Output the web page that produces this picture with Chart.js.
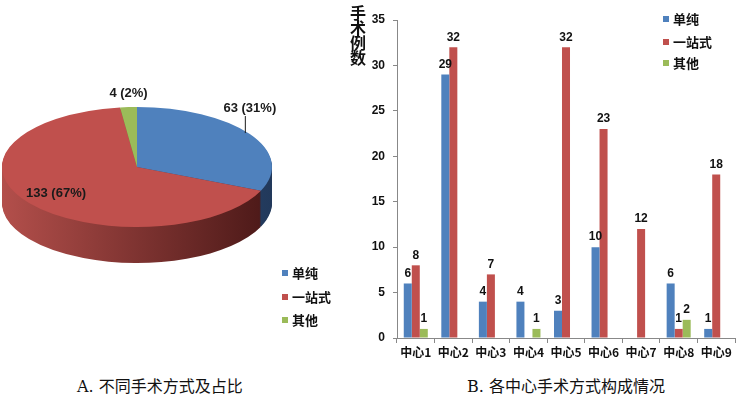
<!DOCTYPE html>
<html>
<head>
<meta charset="utf-8">
<script src="https://cdn.jsdelivr.net/npm/chart.js@4.4.0/dist/chart.umd.min.js"></script>
<style>
    body { margin: 0; background: #fff; width: 740px; height: 399px; position: relative; overflow: hidden; }
    #pieWrap { position: absolute; left: 2px; top: 32px; width: 338px; height: 300px; }
    #barWrap { position: absolute; left: 340px; top: 0; width: 400px; height: 370px; }
    .cap { position: absolute; top: 373px; font: 16px "DejaVu Serif", "Noto Sans CJK SC", serif; color: #111; white-space: nowrap; }
</style>
</head>
<body>
<div id="pieWrap"><canvas id="pieChart"></canvas></div>
<div id="barWrap"><canvas id="barChart"></canvas></div>
<div class="cap" style="left:77px">A. 不同手术方式及占比</div>
<div class="cap" style="left:467px">B. 各中心手术方式构成情况</div>

<script>
// ===== DATA =====
const methods = ["单纯", "一站式", "其他"];
const methodTotals = [63, 133, 4];
const methodShares = [31, 67, 2]; // percent, as printed on the pie

const centers = ["中心1", "中心2", "中心3", "中心4", "中心5", "中心6", "中心7", "中心8", "中心9"];
const simpleCases = [6, 29, 4, 4, 3, 10, 0, 6, 1];
const oneStopCases = [8, 32, 7, 0, 32, 23, 12, 1, 18];
const otherCases = [1, 0, 0, 1, 0, 0, 0, 2, 0];

const yMax = 35;
const yStep = 5;

const colors = ["#4F81BD", "#C0504D", "#9BBB59"];

Chart.defaults.animation = false;
Chart.defaults.plugins.legend.display = false;
Chart.defaults.plugins.tooltip.enabled = false;

const numFont = '"Liberation Sans", Arial, sans-serif';
const cjkFont = '"Noto Sans CJK SC", sans-serif';

// small square legend drawn straight on the canvas
function drawLegend(ctx, x, ys) {
    ctx.save();
    ctx.font = "bold 13px " + cjkFont;
    ctx.textBaseline = "middle";
    methods.forEach((m, i) => {
        ctx.fillStyle = colors[i];
        ctx.fillRect(x, ys[i] - 3, 6, 6);
        ctx.fillStyle = "#111";
        ctx.fillText(m, x + 10, ys[i]);
    });
    ctx.restore();
}

// ===== PIE (flattened + extruded to look 3D) =====
const tilt = 60 / 135;
const depth = 36;
const sideShades = [["#3d6597", "#22395b"], ["#b34f4b", "#4a1817"], ["#7d9a45", "#55692f"]];

const pie3d = {
    id: "pie3d",
    beforeDatasetsDraw(chart) {
        const ctx = chart.ctx;
        const arcs = chart.getDatasetMeta(0).data;
        const cx = arcs[0].x, cy = arcs[0].y, r = arcs[0].outerRadius;
        ctx.save();
        ctx.translate(cx, cy);
        ctx.scale(1, tilt);
        ctx.translate(-cx, -cy);
        // side walls
        for (let d = depth; d >= 1; d--) {
            ctx.save();
            ctx.translate(0, d / tilt);
            arcs.forEach((arc, i) => {
                const g = ctx.createLinearGradient(cx - r, 0, cx + r, 0);
                g.addColorStop(0, sideShades[i][0]);
                g.addColorStop(1, sideShades[i][1]);
                const fake = Object.create(arc);
                fake.options = { ...arc.options, backgroundColor: g, borderWidth: 0 };
                arc.draw.call(fake, ctx);
            });
            ctx.restore();
        }
        // leave the transform on for the top face
    },
    afterDatasetsDraw(chart) {
        chart.ctx.restore();
    },
    afterDraw(chart) {
        const ctx = chart.ctx;
        const arcs = chart.getDatasetMeta(0).data;
        ctx.save();
        ctx.font = "bold 13px " + numFont;
        ctx.fillStyle = "#1a1a1a";
        ctx.strokeStyle = "#1a1a1a";
        ctx.textAlign = "center";
        ctx.textBaseline = "middle";
        arcs.forEach((arc, i) => {
            const mid = (arc.startAngle + arc.endAngle) / 2;
            const r = arc.outerRadius;
            const text = methodTotals[i] + " (" + methodShares[i] + "%)";
            if (i === 1) {
                ctx.fillText(text, arc.x + r * 0.75 * Math.cos(mid), arc.y + r * tilt * 0.72 * Math.sin(mid));
            } else {
                const px = arc.x + r * Math.cos(mid);
                const py = arc.y + r * tilt * Math.sin(mid);
                if (i === 0) {
                    ctx.lineWidth = 1;
                    ctx.beginPath();
                    ctx.moveTo(px - 4.5, py - 1);
                    ctx.lineTo(px - 4.5, py - 18);
                    ctx.stroke();
                    ctx.fillText(text, px, py - 26);
                } else {
                    ctx.fillText(text, px, py - 14);
                }
            }
        });
        ctx.restore();
        drawLegend(ctx, 280, [241, 265, 288]);
    }
};

new Chart(document.getElementById("pieChart"), {
    type: "pie",
    data: {
        labels: methods,
        datasets: [{
            data: methodTotals,
            backgroundColor: colors,
            borderWidth: 0,
            clip: false,
        }],
    },
    options: {
        responsive: true,
        maintainAspectRatio: false,
        layout: { padding: { left: 0, right: 68, top: 0, bottom: 30 } },
    },
    plugins: [pie3d],
});

// ===== GROUPED BARS =====
const barExtras = {
    id: "barExtras",
    afterDatasetsDraw(chart) {
        const ctx = chart.ctx;
        ctx.save();
        ctx.font = "bold 12px " + numFont;
        ctx.fillStyle = "#111";
        ctx.textAlign = "center";
        ctx.textBaseline = "bottom";
        chart.data.datasets.forEach((ds, i) => {
            chart.getDatasetMeta(i).data.forEach((bar, j) => {
                const v = ds.data[j];
                if (!v) return; // empty bars carry no label
                ctx.fillText(v, bar.x, bar.y - 4);
            });
        });
        ctx.restore();
    },
    afterDraw(chart) {
        const ctx = chart.ctx;
        // vertical axis title, one character per line
        ctx.save();
        ctx.font = "bold 16px " + cjkFont;
        ctx.fillStyle = "#111";
        ctx.textAlign = "center";
        ctx.textBaseline = "middle";
        "手术例数".split("").forEach((ch, i) => ctx.fillText(ch, 18, 13 + i * 15));
        ctx.restore();
        drawLegend(ctx, 323, [19, 42, 63]);
    }
};

new Chart(document.getElementById("barChart"), {
    type: "bar",
    data: {
        labels: centers,
        datasets: [
            { label: methods[0], data: simpleCases, backgroundColor: colors[0] },
            { label: methods[1], data: oneStopCases, backgroundColor: colors[1] },
            { label: methods[2], data: otherCases, backgroundColor: colors[2] },
        ],
    },
    options: {
        responsive: true,
        maintainAspectRatio: false,
        layout: { padding: { left: 0, right: 5, top: 20, bottom: 0 } },
        datasets: { bar: { categoryPercentage: 0.64, barPercentage: 1 } },
        scales: {
            x: {
                grid: { drawOnChartArea: false, drawTicks: true, tickLength: 5, color: "#888", offset: true },
                border: { color: "#888" },
                ticks: { color: "#111", font: { family: cjkFont, size: 12, weight: "bold" }, padding: 2, maxRotation: 0, autoSkip: false },
                afterFit(scale) { scale.height = 32; },
            },
            y: {
                min: 0,
                max: yMax,
                grid: { drawOnChartArea: false, drawTicks: true, tickLength: 4, color: "#888" },
                border: { color: "#888" },
                ticks: { stepSize: yStep, color: "#111", font: { family: numFont, size: 12, weight: "bold" }, padding: 8 },
                afterFit(scale) { scale.width = 57; },
            },
        },
    },
    plugins: [barExtras],
});
</script>
</body>
</html>
